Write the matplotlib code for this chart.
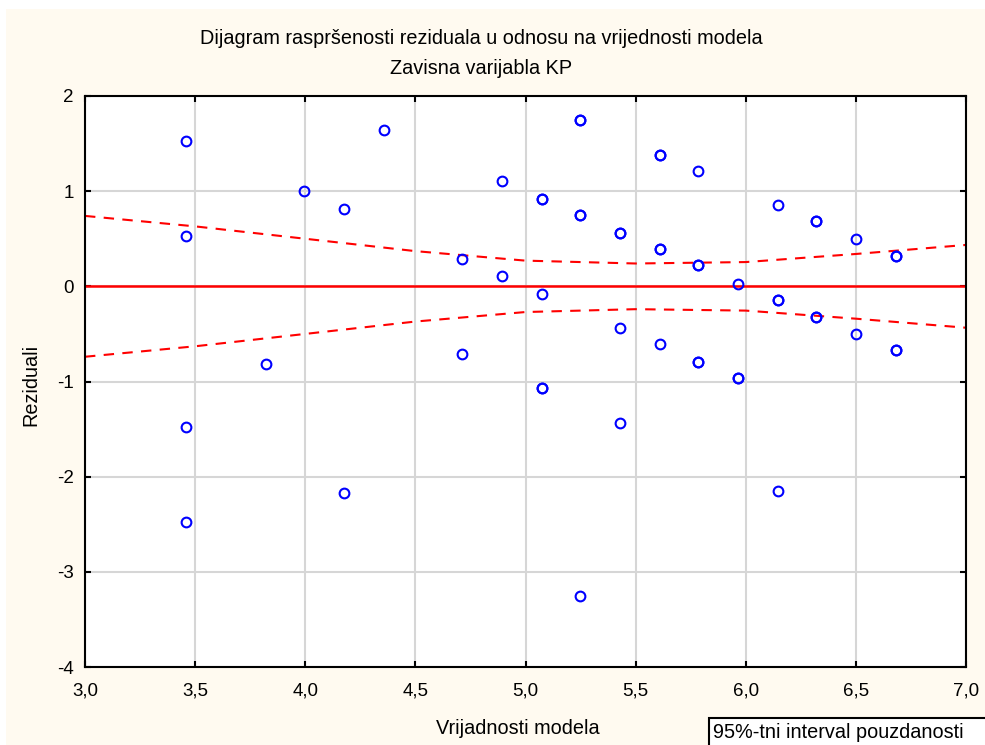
import matplotlib
matplotlib.use('Agg')
import matplotlib.pyplot as plt
from matplotlib.patches import Rectangle
from matplotlib.ticker import FuncFormatter

plt.rcParams['font.family'] = ['Liberation Sans', 'DejaVu Sans']

# predicted values (x) and residuals (y)
pred = [3.459, 3.459, 3.459, 3.459, 3.822, 3.994, 4.176, 4.176, 4.358,
        4.712, 4.712, 4.893, 4.893, 5.075, 5.075, 5.075, 5.075, 5.075,
        5.247, 5.247, 5.247, 5.247, 5.247, 5.429, 5.429, 5.429, 5.429,
        5.610, 5.610, 5.610, 5.610, 5.610, 5.783, 5.783, 5.783, 5.783,
        5.783, 5.965, 5.965, 5.965, 6.146, 6.146, 6.146, 6.146, 6.319,
        6.319, 6.319, 6.319, 6.501, 6.501, 6.682, 6.682, 6.682, 6.682]
resid = [1.527, 0.530, -1.478, -2.476, -0.816, 1.002, 0.813, -2.172, 1.643,
         0.287, -0.711, 1.107, 0.109, 0.918, 0.918, -0.080, -1.068, -1.068,
         1.748, 1.748, 0.750, -3.254, 0.750, 0.560, 0.560, -0.438, -1.436,
         1.380, 1.380, 0.392, 0.392, -0.606, 1.212, 0.224, 0.224, -0.795,
         -0.795, 0.025, -0.963, -0.963, 0.855, -0.144, -0.144, -2.150, 0.687,
         0.687, -0.322, -0.322, 0.497, -0.501, 0.315, 0.315, -0.669, -0.669]

# 95% band half-width
band_x = [3.0, 3.5, 4.0, 4.5, 5.0, 5.5, 6.0, 6.5, 7.0]
band_w = [0.74, 0.63, 0.50, 0.37, 0.27, 0.24, 0.255, 0.34, 0.435]

fig = plt.figure(figsize=(9.85, 7.45), dpi=100, facecolor='white')
fig.patches.append(Rectangle((6 / 985, 0), 1, 1 - 9 / 745, transform=fig.transFigure,
                             facecolor='#fffaf0', edgecolor='none', zorder=-10))

ax = fig.add_axes([85 / 985, 1 - 667 / 745, 881 / 985, 571 / 745])
ax.set_facecolor('white')

ax.grid(True, color='#d6d6d6', linewidth=1.5)
ax.set_axisbelow(True)

ax.axhline(0, color='#ff0000', linewidth=1.8, zorder=2)
ax.plot(band_x, band_w, color='#ff0000', linestyle=(0, (5, 4)), linewidth=1.5, zorder=2)
ax.plot(band_x, [-w for w in band_w], color='#ff0000', linestyle=(0, (5, 4)),
        linewidth=1.5, zorder=2)

ax.plot(pred, resid, linestyle='none', marker='o', markersize=7,
        markerfacecolor='none', markeredgecolor='#0000ff', markeredgewidth=1.5, zorder=3)

ax.set_xlim(3.0, 7.0)
ax.set_ylim(-4, 2)
ax.set_xticks([3.0, 3.5, 4.0, 4.5, 5.0, 5.5, 6.0, 6.5, 7.0])
ax.set_yticks([-4, -3, -2, -1, 0, 1, 2])
ax.xaxis.set_major_formatter(FuncFormatter(lambda v, p: f'{v:.1f}'.replace('.', ',')))
ax.yaxis.set_major_formatter(FuncFormatter(lambda v, p: f'{int(v)}'))
ax.tick_params(direction='in', length=4, width=1.5, top=True, right=True,
               labelsize=13.5, colors='black')
ax.tick_params(axis='x', pad=11)
ax.tick_params(axis='y', pad=8)
for s in ax.spines.values():
    s.set_linewidth(1.5)

fs = 14.3
fig.text(481 / 985, 1 - 38 / 745, 'Dijagram raspršenosti reziduala u odnosu na vrijednosti modela',
         ha='center', va='center', fontsize=fs)
fig.text(481 / 985, 1 - 68 / 745, 'Zavisna varijabla KP', ha='center', va='center', fontsize=fs)
fig.text(518 / 985, 1 - 729 / 745, 'Vrijadnosti modela', ha='center', va='center', fontsize=fs)
fig.text(31 / 985, 1 - 385 / 745, 'Reziduali', ha='center', va='center', fontsize=fs,
         rotation=90)

# legend box at the lower right
fig.patches.append(Rectangle((709 / 985, -0.01), 1, 1 - 718 / 745 + 0.01,
                             transform=fig.transFigure, facecolor='white',
                             edgecolor='black', linewidth=1.5))
fig.text(713 / 985, 1 - 733 / 745, '95%-tni interval pouzdanosti', ha='left', va='center',
         fontsize=fs)

fig.savefig('out.png', dpi=100, facecolor=fig.get_facecolor())
